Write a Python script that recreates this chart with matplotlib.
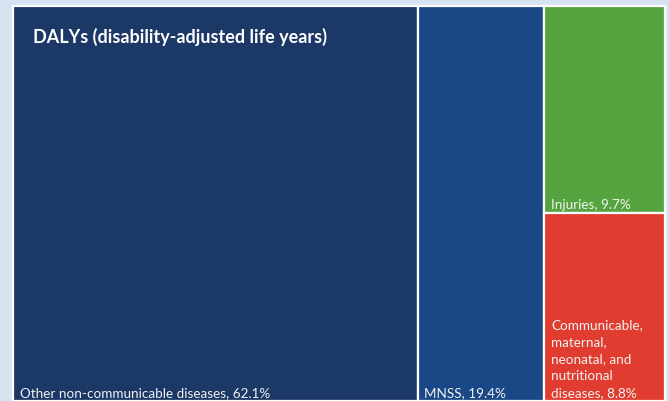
import matplotlib
matplotlib.use("Agg")
import matplotlib.pyplot as plt
from matplotlib.patches import Rectangle

# Data
categories = ["Other non-communicable diseases", "MNSS", "Injuries",
              "Communicable,\nmaternal,\nneonatal, and\nnutritional\ndiseases"]
shares = [62.1, 19.4, 9.7, 8.8]
colors = ["#1b3867", "#1a4886", "#56a440", "#e03c30"]
title = "DALYs (disability-adjusted life years)"

W, H = 669, 401
fig = plt.figure(figsize=(W / 100, H / 100), dpi=100)
fig.patch.set_facecolor("#d6e4f1")
ax = fig.add_axes([13 / W, 0, 652 / W, 395 / H])
ax.set_xlim(0, 100)
ax.set_ylim(0, 100)
ax.axis("off")

total = sum(shares)
# Treemap layout: first two columns full height, last column split vertically
x0 = 0
rects = []
w1 = shares[0] / total * 100
rects.append((x0, 0, w1, 100))
x0 += w1
w2 = shares[1] / total * 100
rects.append((x0, 0, w2, 100))
x0 += w2
w3 = 100 - x0
h_inj = shares[2] / (shares[2] + shares[3]) * 100
rects.append((x0, 100 - h_inj, w3, h_inj))
rects.append((x0, 0, w3, 100 - h_inj))

font = "Lato"
for (x, y, w, h), c in zip(rects, colors):
    ax.add_patch(Rectangle((x, y), w, h, facecolor=c, edgecolor="white",
                           linewidth=1.6, clip_on=False))

labels = [f"{cat}, {s}%" for cat, s in zip(categories, shares)]
pad_x = 1.0
for i, ((x, y, w, h), lab) in enumerate(zip(rects, labels)):
    ax.text(x + pad_x, y + 0.5, lab, color="#f2f2f2", fontsize=9.7,
            family=font, ha="left", va="bottom", linespacing=1.5)

ax.text(3.1, 92.2, title, color="white", fontsize=13, fontweight="bold",
        family=font, ha="left", va="center")

fig.savefig("out.png", dpi=100, facecolor=fig.get_facecolor())
